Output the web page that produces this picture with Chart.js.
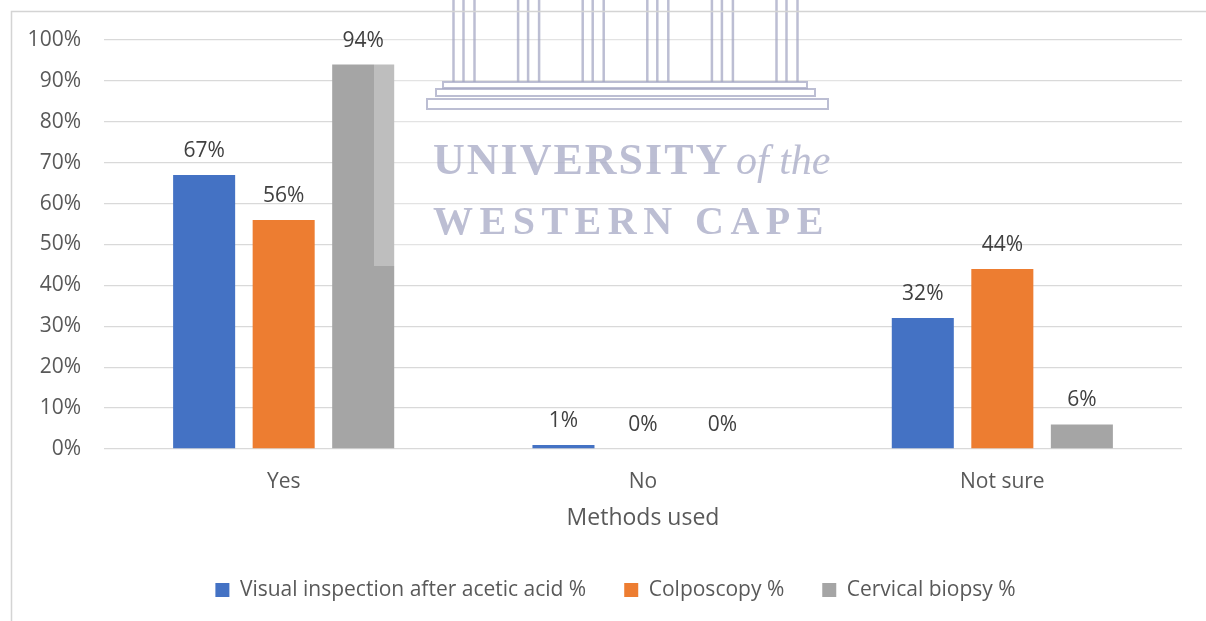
<!DOCTYPE html>
<html>
<head>
<meta charset="utf-8">
<script src="https://cdn.jsdelivr.net/npm/chart.js@4"></script>
<style>
  html, body { margin: 0; padding: 0; background: #ffffff; }
  #wrap { position: relative; width: 1206px; height: 621px; }
</style>
</head>
<body>
<div id="wrap"><canvas id="c" width="1206" height="621"></canvas></div>
<script>
// Answers per category, in percent
const categories = ['Yes', 'No', 'Not sure'];
const viaValues = [67, 1, 32];
const colposcopyValues = [56, 0, 44];
const biopsyValues = [94, 0, 6];
const seriesNames = ['Visual inspection after acetic acid %', 'Colposcopy %', 'Cervical biopsy %'];
const seriesColors = ['#4472C4', '#ED7D31', '#A5A5A5'];
const yTicks = [0, 10, 20, 30, 40, 50, 60, 70, 80, 90, 100];

const FONT = "'Open Sans', 'Liberation Sans', sans-serif";
const TEXT = '#595959';

// Light frame along the top and left edges
const framePlugin = {
  id: 'frame',
  afterDraw(chart) {
    const ctx = chart.ctx;
    ctx.save();
    ctx.strokeStyle = '#d4d4d4';
    ctx.lineWidth = 1.5;
    ctx.beginPath();
    ctx.moveTo(11.5, chart.height);
    ctx.lineTo(11.5, 11.5);
    ctx.lineTo(chart.width, 11.5);
    ctx.stroke();
    ctx.restore();
  }
};

// Legend sits a little right of the canvas centre
const legendShift = {
  id: 'legendShift',
  afterLayout(chart) {
    chart.legend.left += 14.5;
    chart.legend.right += 14.5;
  }
};

// University crest watermark laid over the plot, then the value labels on top
const overlayPlugin = {
  id: 'overlay',
  afterDatasetsDraw(chart) {
    const ctx = chart.ctx;
    ctx.save();

    // translucent backing of the crest
    ctx.fillStyle = 'rgba(255,255,255,0.28)';
    ctx.fillRect(374, 0, 476, 266);

    const ink = 'rgba(165,168,196,0.75)';
    ctx.strokeStyle = ink;
    ctx.lineWidth = 2.5;
    // columns
    for (let i = 0; i < 6; i++) {
      const cx = 464 + i * 64.6;
      [-10.5, -0.5, 10.5].forEach(dx => {
        ctx.beginPath();
        ctx.moveTo(cx + dx, 0);
        ctx.lineTo(cx + dx, 82);
        ctx.stroke();
      });
    }
    // stepped base
    ctx.lineWidth = 2;
    ctx.strokeRect(443, 82, 364, 6);
    ctx.strokeRect(436, 89, 379, 7);
    ctx.strokeRect(427, 99, 401, 10);

    ctx.fillStyle = ink;
    ctx.textBaseline = 'alphabetic';
    ctx.textAlign = 'left';
    ctx.font = "bold 44px 'Liberation Serif', 'DejaVu Serif', serif";
    ctx.letterSpacing = '2px';
    ctx.fillText('UNIVERSITY', 433, 174);
    ctx.letterSpacing = '0px';
    ctx.font = "italic 42px 'Liberation Serif', 'DejaVu Serif', serif";
    ctx.fillText('of the', 736, 174);
    ctx.font = "bold 40px 'Liberation Serif', 'DejaVu Serif', serif";
    ctx.letterSpacing = '6.5px';
    ctx.fillText('WESTERN CAPE', 433, 234);
    ctx.letterSpacing = '0px';

    // value labels above each bar
    ctx.font = '21px ' + FONT;
    ctx.fillStyle = '#404040';
    ctx.textAlign = 'center';
    ctx.textBaseline = 'middle';
    chart.data.datasets.forEach((ds, di) => {
      const meta = chart.getDatasetMeta(di);
      meta.data.forEach((bar, i) => {
        ctx.fillText(Math.round(ds.data[i]) + '%', bar.x, bar.y - 24);
      });
    });
    ctx.restore();
  }
};

const dataSets = [viaValues, colposcopyValues, biopsyValues].map((vals, i) => ({
  label: seriesNames[i],
  data: vals,
  backgroundColor: seriesColors[i],
  borderWidth: 0,
  barPercentage: 0.78,
  categoryPercentage: 0.664
}));

new Chart(document.getElementById('c'), {
  type: 'bar',
  data: { labels: categories, datasets: dataSets },
  options: {
    responsive: false,
    animation: false,
    devicePixelRatio: 1,
    layout: { padding: { top: 40, left: 20, right: 24, bottom: 10.5 } },
    plugins: {
      tooltip: { enabled: false },
      legend: {
        position: 'bottom',
        align: 'center',
        labels: {
          boxWidth: 14,
          boxHeight: 14,
          padding: 38,
          color: TEXT,
          font: { family: FONT, size: 21 }
        }
      }
    },
    scales: {
      x: {
        grid: { display: false, drawTicks: false },
        border: { display: false },
        ticks: { color: TEXT, padding: 20, font: { family: FONT, size: 21 } },
        title: {
          display: true,
          text: 'Methods used',
          color: TEXT,
          padding: { top: 0, bottom: 9.7 },
          font: { family: FONT, size: 23 }
        },
        afterFit(scale) { scale.height = 92.5; }
      },
      y: {
        min: 0,
        max: 100,
        afterBuildTicks(scale) { scale.ticks = yTicks.map(v => ({ value: v })); },
        grid: { color: '#d9d9d9', lineWidth: 1.3, drawTicks: false },
        border: { display: false },
        ticks: {
          color: TEXT,
          padding: 23,
          font: { family: FONT, size: 21 },
          callback: v => v + '%'
        },
        afterFit(scale) { scale.width = 84; }
      }
    }
  },
  plugins: [framePlugin, legendShift, overlayPlugin]
});
</script>
</body>
</html>
